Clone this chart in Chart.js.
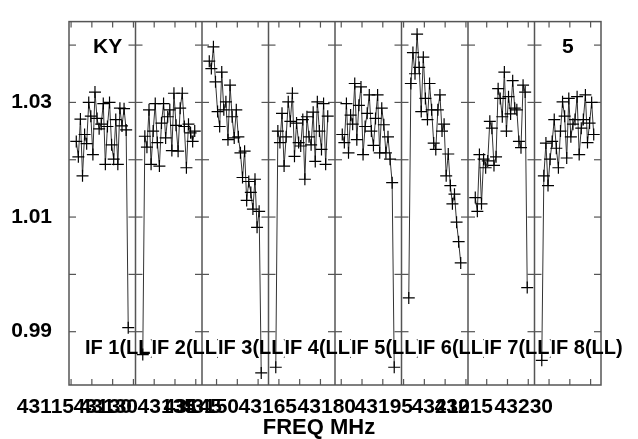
<!DOCTYPE html>
<html>
<head>
<meta charset="utf-8">
<script src="https://cdn.jsdelivr.net/npm/chart.js@4.4.1/dist/chart.umd.min.js"></script>
<style>
  html, body { margin: 0; padding: 0; background: #fff; }
  #wrap { width: 638px; height: 439px; }
</style>
</head>
<body>
<div id="wrap"><canvas id="possm"></canvas></div>
<script>
// 8 IFs of 16 MHz, 26 plotted channels of 0.5 MHz each
const IF_NAMES = ['IF 1(LL)', 'IF 2(LL)', 'IF 3(LL)', 'IF 4(LL)', 'IF 5(LL)', 'IF 6(LL)', 'IF 7(LL)', 'IF 8(LL)'];
const IF_START = [43114.5, 43130.5, 43146.5, 43162.5, 43178.5, 43194.5, 43210.5, 43226.5];
const IF_WIDTH = 16;
const CHAN_FIRST = 1.75;
const CHAN_STEP = 0.5;

const AMP_IF1 = [1.0232, 1.0205, 1.0271, 1.0172, 1.0244, 1.0228, 1.0300, 1.0276, 1.0209, 1.0318, 1.0272, 1.0254, 1.0262,
  1.0298, 1.0192, 1.0258, 1.0300, 1.0226, 1.0201, 1.0270, 1.0192, 1.0290, 1.0259, 1.0289, 1.0252, 0.9907];
const AMP_IF2 = [0.9860, 1.0241, 1.0222, 1.0287, 1.0192, 1.0250, 1.0298, 1.0230, 1.0189, 1.0264, 1.0298, 1.0238, 1.0275,
  1.0287, 1.0216, 1.0316, 1.0260, 1.0215, 1.0290, 1.0316, 1.0258, 1.0186, 1.0262, 1.0247, 1.0232, 1.0250];
const AMP_IF3 = [1.0372, 1.0359, 1.0397, 1.0336, 1.0284, 1.0258, 1.0353, 1.0287, 1.0301, 1.0235, 1.0330, 1.0275, 1.0238,
  1.0287, 1.0240, 1.0212, 1.0169, 1.0215, 1.0129, 1.0162, 1.0143, 1.0114, 1.0166, 1.0082, 1.0110, 0.9828];
const AMP_IF4 = [0.9838, 1.0250, 1.0230, 1.0281, 1.0189, 1.0240, 1.0301, 1.0267, 1.0316, 1.0206, 1.0264, 1.0230, 1.0224,
  1.0270, 1.0166, 1.0275, 1.0240, 1.0226, 1.0283, 1.0197, 1.0301, 1.0250, 1.0218, 1.0298, 1.0192, 1.0276];
const AMP_IF5 = [1.0244, 1.0230, 1.0298, 1.0212, 1.0278, 1.0262, 1.0333, 1.0235, 1.0295, 1.0327, 1.0209, 1.0258, 1.0281,
  1.0313, 1.0250, 1.0225, 1.0272, 1.0313, 1.0212, 1.0290, 1.0261, 1.0212, 1.0240, 1.0201, 1.0160, 0.9838];
const AMP_IF6 = [0.9959, 1.0333, 1.0387, 1.0350, 1.0419, 1.0361, 1.0284, 1.0379, 1.0307, 1.0270, 1.0333, 1.0287, 1.0229,
  1.0218, 1.0287, 1.0313, 1.0250, 1.0262, 1.0172, 1.0210, 1.0155, 1.0123, 1.0140, 1.0091, 1.0057, 1.0020];
const AMP_IF7 = [1.0134, 1.0110, 1.0209, 1.0123, 1.0201, 1.0186, 1.0198, 1.0267, 1.0255, 1.0190, 1.0205, 1.0324, 1.0307,
  1.0275, 1.0353, 1.0250, 1.0310, 1.0280, 1.0338, 1.0290, 1.0287, 1.0232, 1.0221, 1.0330, 1.0318, 0.9977];
const AMP_IF8 = [0.9850, 1.0172, 1.0229, 1.0155, 1.0201, 1.0232, 1.0270, 1.0220, 1.0186, 1.0250, 1.0301, 1.0276, 1.0203,
  1.0307, 1.0240, 1.0262, 1.0270, 1.0310, 1.0209, 1.0255, 1.0270, 1.0313, 1.0230, 1.0264, 1.0300, 1.0244];
const AMPS = [AMP_IF1, AMP_IF2, AMP_IF3, AMP_IF4, AMP_IF5, AMP_IF6, AMP_IF7, AMP_IF8];

// axis ticks
const Y_LABELS = [0.99, 1.01, 1.03];
const Y_MINOR = [0.99, 1.00, 1.01, 1.02, 1.03, 1.04];
const X_MINOR = [43115, 43120, 43125, 43130, 43135, 43140, 43145, 43150, 43155, 43160, 43165, 43170, 43175,
  43180, 43185, 43190, 43195, 43200, 43205, 43210, 43215, 43220, 43225, 43230, 43235, 43240];
// labels are right-aligned where they sit on the plot (they overlap, as in the source)
const X_LABEL_FREQ = [43115.7, 43129.66, 43131.1, 43145.06, 43151.31, 43155.4, 43169.36, 43183.55, 43197.27,
  43210.98, 43216.52, 43230.95];
const X_LABEL_TEXT = ['43115', '43130', '43130', '43135', '43145', '43150', '43165', '43180', '43195',
  '43210', '43215', '43230'];

const FONT = '"Liberation Sans", Arial, Helvetica, sans-serif';
const LABEL_INSET = 16;

function ifPoints(i) {
  return AMPS[i].map((v, k) => ({ x: IF_START[i] + CHAN_FIRST + CHAN_STEP * k, y: v }));
}

// frame, panel dividers, inward ticks and annotation text
const possmFrame = {
  id: 'possmFrame',
  beforeDatasetsDraw(chart) {
    const { ctx, chartArea: a, scales: { x, y } } = chart;
    const edges = IF_START.map(f => x.getPixelForValue(f)).concat(a.right);
    const seg = (x1, y1, x2, y2) => { ctx.beginPath(); ctx.moveTo(x1, y1); ctx.lineTo(x2, y2); ctx.stroke(); };
    ctx.save();
    ctx.strokeStyle = '#555';
    ctx.lineWidth = 1.5;
    ctx.strokeRect(a.left, a.top, a.right - a.left, a.bottom - a.top);
    edges.slice(1, -1).forEach(px => seg(px, a.top, px, a.bottom));
    ctx.lineWidth = 1.2;
    Y_MINOR.forEach(v => {
      const py = y.getPixelForValue(v);
      edges.forEach((ex, i) => {
        const l = i === 0 ? 0 : 7;
        const r = i === edges.length - 1 ? 0 : 7;
        seg(ex - l, py, ex + r, py);
      });
    });
    X_MINOR.forEach(f => {
      const px = x.getPixelForValue(f);
      seg(px, a.bottom, px, a.bottom - 6);
      seg(px, a.top, px, a.top + 6);
    });
    ctx.restore();
  },
  afterDatasetsDraw(chart) {
    const { ctx, chartArea: a, scales: { x } } = chart;
    const edges = IF_START.map(f => x.getPixelForValue(f)).concat(a.right);
    ctx.save();
    ctx.fillStyle = '#000';
    ctx.font = 'bold 21px ' + FONT;
    ctx.textBaseline = 'middle';
    ctx.textAlign = 'left';
    ctx.fillText('KY', a.left + 24, a.top + 26);
    ctx.textAlign = 'center';
    ctx.fillText('5', (edges[7] + edges[8]) / 2, a.top + 26);
    // IF names: each one is cut where the next one begins
    ctx.font = 'bold 20px ' + FONT;
    ctx.textAlign = 'left';
    IF_NAMES.forEach((n, i) => {
      const x0 = edges[i] + LABEL_INSET;
      const x1 = i < IF_NAMES.length - 1 ? edges[i + 1] + LABEL_INSET : chart.width;
      ctx.save();
      ctx.beginPath();
      ctx.rect(x0 - 2, 330, x1 - x0 + 2, 40);
      ctx.clip();
      ctx.fillText(n, x0, 348);
      ctx.restore();
    });
    ctx.font = 'bold 22px ' + FONT;
    ctx.textAlign = 'center';
    ctx.fillText('FREQ MHz', chart.width / 2, 428);
    ctx.restore();
  }
};

new Chart(document.getElementById('possm'), {
  type: 'line',
  data: {
    datasets: IF_NAMES.map((n, i) => ({
      label: n,
      data: ifPoints(i),
      borderColor: '#333',
      borderWidth: 1,
      pointStyle: 'cross',
      pointRadius: 6,
      pointBorderColor: '#000',
      pointBorderWidth: 1.2,
      tension: 0,
      fill: false,
    })),
  },
  options: {
    responsive: true,
    maintainAspectRatio: false,
    animation: false,
    layout: { padding: { top: 17, right: 37, left: 0, bottom: 0 } },
    plugins: { legend: { display: false }, tooltip: { enabled: false } },
    scales: {
      x: {
        type: 'linear',
        min: IF_START[0],
        max: IF_START[7] + IF_WIDTH,
        grid: { display: false },
        border: { display: false },
        afterBuildTicks: s => { s.ticks = X_LABEL_FREQ.map(v => ({ value: v })); },
        afterFit: s => { s.height = 54; },
        ticks: {
          align: 'end',
          autoSkip: false,
          maxRotation: 0,
          minRotation: 0,
          padding: 2,
          color: '#000',
          font: { family: FONT, size: 21, weight: 'bold' },
          callback: (v, i) => X_LABEL_TEXT[i],
        },
      },
      y: {
        min: 0.9807,
        max: 1.0441,
        grid: { display: false },
        border: { display: false },
        afterBuildTicks: s => { s.ticks = Y_LABELS.map(v => ({ value: v })); },
        afterFit: s => { s.width = 69; },
        ticks: {
          padding: 9,
          color: '#000',
          font: { family: FONT, size: 21, weight: 'bold' },
          callback: v => v.toFixed(2),
        },
      },
    },
  },
  plugins: [possmFrame],
});
</script>
</body>
</html>
